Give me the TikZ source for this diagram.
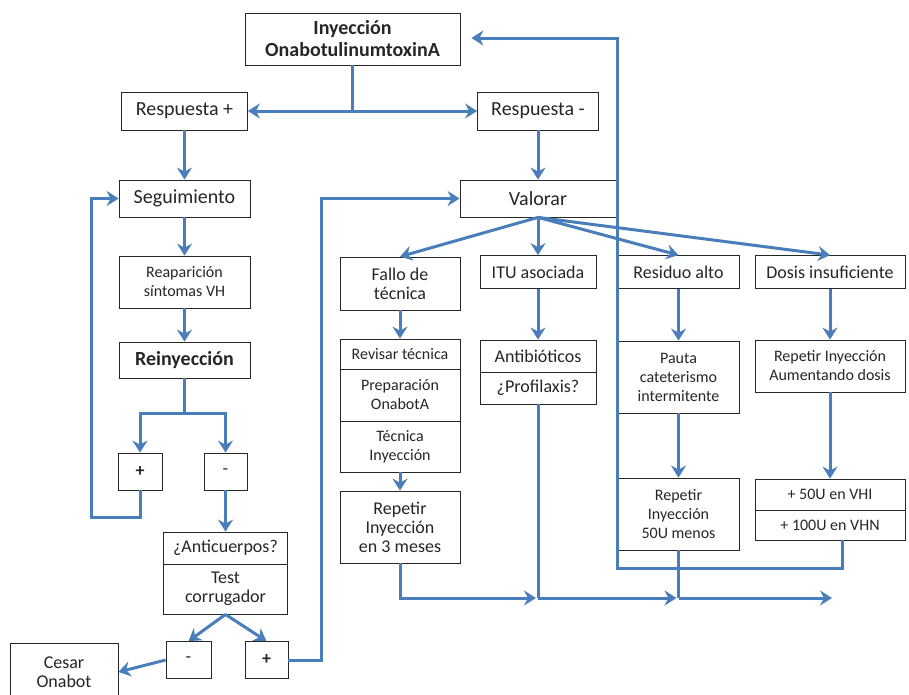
\documentclass[tikz,border=0pt]{standalone}
\usepackage{fontspec}
\setmainfont{Carlito}
\usetikzlibrary{arrows.meta, positioning, calc}
\definecolor{azul}{RGB}{74,126,187}

\begin{document}
\begin{tikzpicture}[
                x=1pt, y=-1pt,
                caja/.style={rectangle, draw=black!85, fill=white, line width=0.8pt, align=center, inner sep=1pt, text=black!85},
                grande/.style={font=\fontsize{20}{22}\selectfont},
                negrita/.style={font=\fontsize{20}{22}\selectfont\bfseries},
                medio/.style={font=\fontsize{18}{19}\selectfont},
                chico/.style={font=\fontsize{16}{19}\selectfont},
                flecha/.style={-{Stealth[length=12pt, width=15pt, inset=4pt]}, azul, line width=3pt},
                linea/.style={azul, line width=3pt}
            ]
                \useasboundingbox (0,0) rectangle (909,694);

                % columna izquierda
                \node[caja, negrita, minimum width=215pt, minimum height=52pt] (iny) at (352.5,39) {Inyección\\OnabotulinumtoxinA};
                \node[caja, grande, minimum width=126pt, minimum height=38pt] (rpos) at (184.5,111) {Respuesta +};
                \node[caja, grande, minimum width=121pt, minimum height=38pt] (rneg) at (538,111) {Respuesta -};
                \node[caja, grande, minimum width=131pt, minimum height=37pt] (seg) at (184.5,198.5) {Seguimiento};
                \node[caja, grande, minimum width=156pt, minimum height=37pt] (val) at (538,198.5) {Valorar};
                \node[caja, chico, minimum width=131pt, minimum height=52pt] (reap) at (184.5,282) {Reaparición\\síntomas VH};
                \node[caja, negrita, minimum width=131pt, minimum height=36pt] (rein) at (184.5,360) {Reinyección};
                \node[caja, medio, minimum width=44pt, minimum height=37pt] (mas1) at (140,471.5) {\textbf{+}};
                \node[caja, medio, minimum width=43pt, minimum height=37pt] (mns1) at (225.5,471.5) {-};
                \node[caja, medio, minimum width=124pt, minimum height=32pt] (anti) at (225.5,548) {¿Anticuerpos?};
                \node[caja, medio, minimum width=124pt, minimum height=50pt] (test) at (225.5,589) {Test\\corrugador};
                \node[caja, medio, minimum width=45pt, minimum height=37pt] (mns2) at (188.5,660) {-};
                \node[caja, medio, minimum width=43pt, minimum height=37pt] (mas2) at (266.5,660) {\textbf{+}};
                \node[caja, medio, minimum width=108pt, minimum height=58pt] (cesar) at (64,672) {Cesar\\Onabot};

                % causas
                \node[caja, medio, minimum width=120pt, minimum height=53pt] (fallo) at (400,283.5) {Fallo de\\técnica};
                \node[caja, chico, minimum width=120pt, minimum height=30pt] (revis) at (400,354) {Revisar técnica};
                \node[caja, chico, minimum width=120pt, minimum height=52pt] (prep) at (400,395) {Preparación\\OnabotA};
                \node[caja, chico, minimum width=120pt, minimum height=51pt] (tecn) at (400,446.5) {Técnica\\Inyección};
                \node[caja, medio, minimum width=120pt, minimum height=72pt] (rep3) at (400,527) {Repetir\\Inyección\\en 3 meses};
                \node[caja, medio, minimum width=116pt, minimum height=33pt] (itu) at (538,272) {ITU asociada};
                \node[caja, medio, minimum width=116pt, minimum height=32pt] (antib) at (538,356) {Antibióticos};
                \node[caja, medio, minimum width=116pt, minimum height=32pt] (prof) at (538,388) {¿Profilaxis?};
                \node[caja, medio, minimum width=121pt, minimum height=33pt] (resid) at (678.5,272) {Residuo alto};
                \node[caja, chico, minimum width=121pt, minimum height=72pt] (pauta) at (678.5,377) {Pauta\\cateterismo\\intermitente};
                \node[caja, chico, minimum width=121pt, minimum height=72pt] (rep50) at (678.5,514) {Repetir\\Inyección\\50U menos};
                \node[caja, medio, minimum width=150pt, minimum height=33pt] (dosis) at (830,272) {Dosis insuficiente};
                \node[caja, chico, minimum width=150pt, minimum height=52pt] (aument) at (830,366) {Repetir Inyección\\Aumentando dosis};
                \node[caja, chico, minimum width=150pt, minimum height=31pt] (u50) at (830,494.5) {+ 50U en VHI};
                \node[caja, chico, minimum width=150pt, minimum height=30pt] (u100) at (830,525) {+ 100U en VHN};

                % puntos de union
                \coordinate (bif) at (352.5,111);
                \coordinate (bif2) at (184.5,413);
                \coordinate (vueltaseg) at (91,517);
                \coordinate (vueltaval) at (321,660);
                \coordinate (j1) at (538,598);
                \coordinate (j2) at (678.5,598);
                \coordinate (fin) at (832,598);
                \coordinate (fb1) at (842,568);
                \coordinate (fb2) at (617,38);

                \draw[linea] (iny.south) -- (bif);
                \draw[flecha] (bif) -- (rpos.east);
                \draw[flecha] (bif) -- (rneg.west);
                \draw[flecha] (rpos) -- (seg);
                \draw[flecha] (rneg) -- (val);
                \draw[flecha] (seg) -- (reap);
                \draw[flecha] (reap) -- (rein);
                \draw[linea] (rein.south) -- (bif2);
                \draw[flecha] (bif2) -| (mas1.north);
                \draw[flecha] (bif2) -| (mns1.north);
                \draw[flecha] (mas1.south) |- (vueltaseg) |- (seg.west);
                \draw[flecha] (mns1) -- (anti);
                \draw[flecha] (test.south) -- (mns2.north);
                \draw[flecha] (test.south) -- (mas2.north);
                \draw[flecha] (mns2.west) -- (cesar.east);
                \draw[flecha] (mas2.east) -- (vueltaval) |- (val.west);

                \draw[flecha] (val.south) -- (fallo.north);
                \draw[flecha] (val.south) -- (itu.north);
                \draw[flecha] (val.south) -- (resid.north);
                \draw[flecha] (val.south) -- (dosis.north);
                \draw[flecha] (fallo) -- (revis);
                \draw[flecha] (tecn) -- (rep3);
                \draw[flecha] (itu) -- (antib);
                \draw[flecha] (resid) -- (pauta);
                \draw[flecha] (pauta) -- (rep50);
                \draw[flecha] (dosis) -- (aument);
                \draw[flecha] (aument) -- (u50);

                \draw[linea] (prof.south) -- (j1);
                \draw[linea] (rep50.south) -- (j2);
                \draw[flecha, shorten >=2pt] (rep3.south) |- (j1);
                \draw[flecha, shorten >=2pt] (j1) -- (j2);
                \draw[flecha] (j2) -- (fin);
                \draw[flecha, shorten >=11pt] (u100.south -| fb1) -- (fb1) -| (fb2) -- (iny.east |- fb2);
            \end{tikzpicture}
\end{document}
